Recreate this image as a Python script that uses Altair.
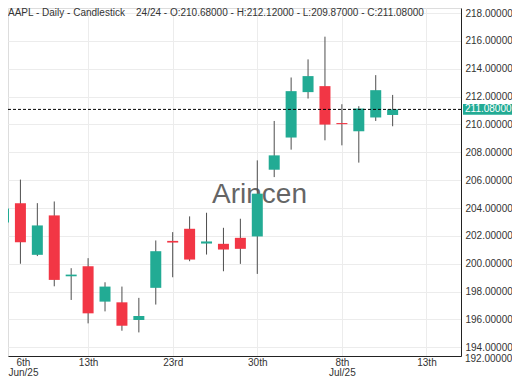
import json
import altair as alt
import pandas as pd

# ---- data ----
idx = list(range(24))
opens = [202.96, 204.35, 200.64, 203.47, 199.10, 199.82, 197.28, 197.23, 195.96, 198.27,
         201.64, 202.51, 201.45, 201.43, 201.86, 201.96, 206.75, 209.06, 212.32, 212.75,
         210.10, 209.51, 210.50, 210.68]
highs = [205.80, 206.04, 204.35, 204.47, 199.68, 200.40, 198.67, 198.36, 197.55, 201.67,
         202.27, 203.40, 203.66, 202.58, 203.23, 207.42, 210.25, 213.37, 214.67, 216.30,
         211.45, 211.31, 213.54, 212.12]
lows = [202.03, 200.00, 200.55, 198.38, 197.40, 195.72, 196.58, 195.19, 195.07, 197.07,
        199.03, 200.18, 200.66, 199.46, 199.99, 199.27, 206.22, 208.19, 211.86, 208.86,
        208.50, 207.26, 210.25, 209.87]
closes = [203.97, 201.55, 202.75, 198.84, 199.22, 196.44, 198.36, 195.55, 196.25, 200.90,
          201.52, 200.30, 201.60, 201.02, 201.07, 205.03, 207.78, 212.39, 213.47, 209.99,
          210.02, 211.14, 212.46, 211.08]

last_price = 211.08
x_tick_values = [1.15, 5, 10, 15, 20, 25]
x_tick_labels = [["6th", "Jun/25"], "13th", "23rd", "30th", ["8th", "Jul/25"], "13th"]
y_tick_values = list(range(194, 219, 2))
title_text = ("AAPL - Daily - Candlestick\u00a0\u00a0\u00a0 24/24 - O:210.68000 - H:212.12000"
              " - L:209.87000 - C:211.08000")
watermark = "Arincen"

UP, DOWN = "#22ab94", "#f23645"
FONT = "Liberation Sans"
W, H = 453, 348

df = pd.DataFrame({"i": idx, "open": opens, "high": highs, "low": lows, "close": closes})
df["dir"] = ["up" if c >= o else "down" for o, c in zip(opens, closes)]

label_expr = f"{json.dumps(x_tick_labels)}[indexof({json.dumps(x_tick_values)}, datum.value)]"

x_axis = alt.Axis(values=x_tick_values, labelExpr=label_expr, title=None, ticks=False,
                  labelFlush=False, labelPadding=1, labelFontSize=10, labelFont=FONT,
                  labelColor="#333333", labelLineHeight=10, labelOverlap=False,
                  domainColor="#222222", gridColor="#ececec",
                  gridOpacity={"condition": {"test": "datum.value < 2", "value": 0}, "value": 1})
y_axis = alt.Axis(orient="right", values=y_tick_values, format=".5f", title=None, ticks=False,
                  labelPadding=4, labelFontSize=10, labelFont=FONT, labelColor="#333333",
                  labelOverlap=False, labelFlush=False,
                  domainColor="#222222", gridColor="#ececec")

x_scale = alt.Scale(domain=[0.266, 27.04], nice=False, zero=False, padding=0)
y_scale = alt.Scale(domain=[193.377, 218.359], nice=False, zero=False, padding=0)


def X(field):
    return alt.X(f"{field}:Q", scale=x_scale, axis=x_axis)


def Y(field):
    return alt.Y(f"{field}:Q", scale=y_scale, axis=y_axis)


base = alt.Chart(df)

wicks = base.mark_rule(color="#4d4d4d", strokeWidth=1, clip=True).encode(
    x=X("i"), y=Y("low"), y2="high")

bodies = base.mark_bar(size=11, clip=True).encode(
    x=X("i"), y=Y("open"), y2="close",
    color=alt.Color("dir:N", scale=alt.Scale(domain=["up", "down"], range=[UP, DOWN]), legend=None))

price_df = pd.DataFrame({"p": [last_price], "lab": [f"{last_price:.5f}"]})
price_line = alt.Chart(price_df).mark_rule(color="#000000", strokeDash=[3, 2], strokeWidth=1).encode(
    y=Y("p"))
price_box = alt.Chart(price_df).transform_calculate(
    top="datum.p + 0.38", bot="datum.p - 0.38").mark_rect(color=UP).encode(
    x=alt.value(455), x2=alt.value(504), y=Y("top"), y2="bot")
price_text = alt.Chart(price_df).mark_text(align="left", baseline="middle", fontSize=10,
                                           font=FONT, color="white").encode(
    x=alt.value(457), y=Y("p"), text="lab:N")

wm = alt.Chart(pd.DataFrame({"t": [watermark]})).mark_text(
    fontSize=28, font=FONT, color="#555555", opacity=0.9, align="center", baseline="alphabetic").encode(
    x=alt.value(251.5), y=alt.value(195), text="t:N")

title = alt.Chart(pd.DataFrame({"t": [title_text]})).mark_text(
    fontSize=10, font=FONT, color="#333333", align="left", baseline="alphabetic").encode(
    x=alt.value(0), y=alt.value(7.5), text="t:N")

low_lab = alt.Chart(pd.DataFrame({"t": ["192.00000"]})).mark_text(
    fontSize=10, font=FONT, color="#333333", align="left", baseline="middle").encode(
    x=alt.value(457), y=alt.value(351), text="t:N")

chart = alt.layer(wm, wicks, bodies, price_line, title, price_box, price_text, low_lab).properties(
    width=W, height=H,
    padding={"left": 0, "top": 0, "right": 51, "bottom": 21},
    autosize=alt.AutoSizeParams(type="none"),
).configure_view(strokeWidth=0).configure(background="white")

chart.save("out.html", embed_options={"renderer": "svg", "actions": False})
